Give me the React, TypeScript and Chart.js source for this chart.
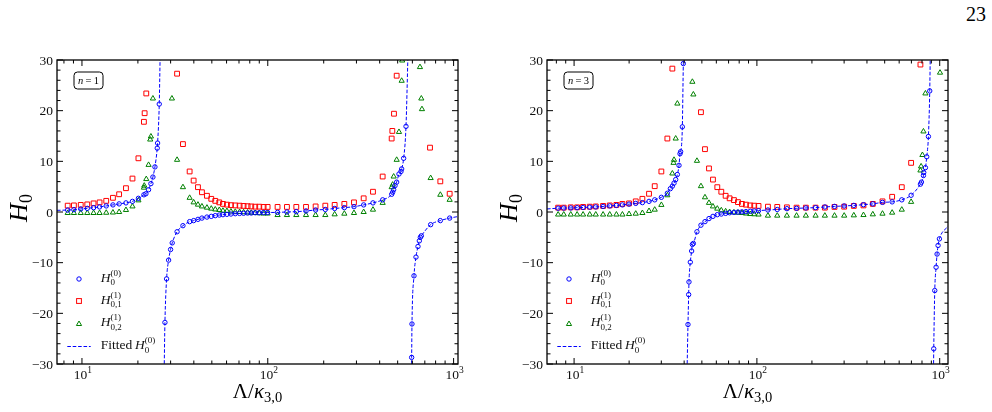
import React, { useEffect, useRef } from "react";
import { Chart, registerables } from "chart.js";

Chart.register(...registerables);

const SERIF = '"Liberation Serif", "Times New Roman", serif';
const BLUE = "#0000ff";
const RED = "#ff0000";
const GREEN = "#008000";

/* ---------------- n = 1 ---------------- */
const n1LamH0 = [
  8.38, 9.05, 9.85, 10.68, 11.55, 12.44, 13.51, 14.68, 15.85, 17.25, 18.7, 20.13,
  21.55, 22.09, 22.83, 23.5, 24.09, 24.7, 25.42, 25.53, 26.06,
  27.96, 28.54, 29.26, 29.99, 30.6, 32.5, 34.95, 37.97, 39.9, 42.1, 44.23, 47.06, 49.65, 52.17,
  54.83, 57.37, 60.28, 63.35, 66.84, 70.52, 74.1, 77.88, 81.5, 85.6, 90.0, 94.95, 99.8,
  112.9, 126.8, 142.4, 160.6, 180.9, 204.0, 229.0, 258.2, 291.0, 328.1, 368.2, 415.2,
  464.2, 469.9, 475.8, 483.8, 493.9, 508.3, 521.0, 525.4, 538.6, 554.4,
  594.6, 597.0, 612.1, 627.4, 643.2, 653.9, 662.1, 670.4, 752.4, 848.3, 952.4,
];
const n1ValH0 = [
  0.39, 0.46, 0.6, 0.72, 0.86, 1.0, 1.2, 1.4, 1.6, 1.8, 2.1, 2.7,
  3.4, 3.6, 4.4, 5.6, 6.9, 8.9, 12.6, 13.6, 21.3,
  -21.8, -13.2, -9.5, -7.4, -6.1, -3.9, -2.7, -1.9, -1.7, -1.45, -1.2, -1.0, -0.86, -0.72,
  -0.6, -0.53, -0.46, -0.4, -0.33, -0.28, -0.25, -0.2, -0.2, -0.15, -0.15, -0.1, -0.1,
  -0.07, 0.0, 0.07, 0.2, 0.4, 0.5, 0.7, 0.86, 1.05, 1.4, 1.8, 2.4,
  3.5, 3.9, 4.4, 5.2, 5.9, 7.5, 8.0, 8.5, 10.6, 16.9,
  -28.7, -22.1, -12.6, -8.9, -6.8, -5.7, -5.0, -4.7, -2.5, -1.7, -1.2,
];
const n1LamH01 = [
  8.38, 9.05, 9.85, 10.68, 11.55, 12.44, 13.51, 14.68, 15.85, 17.25, 18.7, 20.13, 21.55, 21.74, 22.19,
  32.5, 34.95, 37.97, 39.9, 42.1, 44.23, 47.06, 49.65, 52.17, 54.83, 57.37, 60.28, 63.35, 66.84,
  70.52, 74.1, 77.88, 81.5, 85.6, 90.0, 94.95, 99.8,
  112.9, 126.8, 142.4, 160.6, 180.9, 204.0, 229.0, 258.2, 291.0, 328.1, 368.2, 415.2, 464.2, 468.0,
  477.7, 493.9,
  746.5, 848.3, 952.4,
];
const n1ValH01 = [
  1.25, 1.3, 1.4, 1.5, 1.7, 1.9, 2.2, 2.8, 3.5, 4.7, 6.6, 10.6, 17.8, 19.5, 23.4,
  27.3, 13.4, 8.0, 6.2, 4.9, 3.9, 3.2, 2.6, 2.2, 1.9, 1.6, 1.45, 1.35, 1.3,
  1.25, 1.2, 1.15, 1.1, 1.05, 1.05, 1.0, 1.0,
  1.0, 1.0, 1.0, 1.0, 1.1, 1.25, 1.4, 1.6, 1.9, 2.7, 4.0, 7.0, 14.5, 16.0,
  19.4, 26.9,
  12.7, 6.05, 3.6,
];
const n1LamH02 = [
  8.38, 9.05, 9.85, 10.68, 11.55, 12.44, 13.51, 14.68, 15.85, 17.25, 18.7, 20.13, 21.55, 21.64,
  22.19, 22.83, 23.3, 23.5, 24.09,
  30.49, 32.5, 34.95, 37.97, 39.9, 42.1, 44.23, 47.06, 49.65, 52.17, 54.83, 57.37, 60.28, 63.35,
  66.84, 70.52, 74.1, 77.88, 81.5, 85.6, 90.0, 94.95, 99.8,
  112.9, 126.8, 142.4, 160.6, 180.9, 204.0, 229.0, 258.2, 291.0, 328.1, 368.2, 415.2, 464.2,
  469.9, 475.8, 493.9, 508.3, 525.4, 529.0,
  659.2, 670.3, 675.6, 752.4, 848.3, 952.4,
];
const n1ValH02 = [
  -0.2, -0.2, -0.2, -0.2, -0.2, -0.2, -0.15, -0.1, 0.0, 0.4, 1.1, 2.3, 4.8, 5.2,
  6.5, 9.3, 14.3, 14.9, 22.4,
  22.4, 10.3, 4.9, 2.8, 1.9, 1.45, 1.1, 0.86, 0.66, 0.5, 0.4, 0.26, 0.2, 0.1,
  0.05, 0.0, -0.05, -0.1, -0.15, -0.2, -0.25, -0.3, -0.3,
  -0.6, -0.6, -0.6, -0.6, -0.6, -0.6, -0.46, -0.33, -0.2, 0.0, 0.46, 1.8, 4.9,
  5.4, 7.0, 10.3, 15.8, 25.9, 29.9,
  28.6, 22.4, 20.3, 6.7, 3.4, 2.4,
];
// fitted H0^(0): each branch runs [Λ start, H start, Λ end, H end] around the poles
const n1FitBranches = [
  [7.34, 0.33, 26.35, 31],
  [27.7, -31, 568, 31],
  [592.5, -31, 1056, -0.9],
];
const n1XRange = [7.34, 1056];

/* ---------------- n = 3 ---------------- */
const n3LamH0 = [
  8.18, 8.78, 9.59, 10.39, 11.2, 12.18, 13.14, 14.41, 15.67, 17.04, 18.38, 19.98, 21.74, 23.64,
  25.7, 27.61, 30.02, 32.38, 33.62, 34.48, 35.21, 35.96, 36.72, 37.49, 37.97, 38.28, 39.1, 39.59,
  41.98, 42.34, 42.51, 43.23, 43.96, 44.36, 44.92, 47.0, 49.43, 52.0, 54.69, 57.5, 60.73, 63.87,
  67.45, 70.93, 74.89, 78.76, 82.8, 87.1, 91.97, 96.7, 102.1,
  114.9, 129.2, 145.9, 164.8, 185.3, 209.4, 235.4, 265.8, 300.2, 339.0, 382.8, 430.6, 486.4,
  549.3, 620.2, 697.5, 784.4, 794.4, 814.7, 817.8, 835.2, 849.3, 867.3, 882.0,
  927.7, 939.5, 955.3, 967.4, 979.5, 996.1,
];
const n3ValH0 = [
  0.75, 0.78, 0.8, 0.85, 0.9, 0.95, 1.0, 1.1, 1.2, 1.3, 1.4, 1.55, 1.7, 1.85,
  2.1, 2.4, 2.9, 3.7, 4.6, 5.1, 5.7, 6.4, 7.4, 9.2, 11.5, 11.9, 16.8, 29.3,
  -22.2, -16.3, -13.8, -9.9, -7.7, -6.4, -6.2, -3.9, -2.6, -1.9, -1.3, -0.86, -0.53, -0.4,
  -0.27, -0.15, -0.08, -0.02, 0.03, 0.08, 0.14, 0.2, 0.26,
  0.4, 0.5, 0.66, 0.72, 0.8, 0.86, 1.0, 1.1, 1.2, 1.3, 1.45, 1.6, 1.9,
  2.0, 2.4, 3.3, 5.5, 5.9, 7.2, 7.8, 8.75, 10.9, 14.9, 23.9,
  -27.0, -15.5, -10.9, -8.3, -6.6, -5.3,
];
const n3LamH01 = [
  8.18, 8.78, 9.59, 10.39, 11.2, 12.18, 13.14, 14.41, 15.67, 17.04, 18.38, 19.98, 21.74, 23.64,
  25.7, 27.61, 30.02, 32.38, 34.48,
  49.43, 52.0, 54.69, 57.5, 60.73, 63.87, 67.45, 70.93, 74.89, 78.76, 82.8, 87.1, 91.97, 96.7, 102.1,
  114.9, 129.2, 145.9, 164.8, 185.3, 209.4, 235.4, 265.8, 300.2, 339.0, 382.8, 430.6, 486.4,
  549.3, 620.2, 697.5, 784.4,
];
const n3ValH01 = [
  0.86, 0.86, 0.92, 0.92, 1.0, 1.05, 1.1, 1.2, 1.3, 1.4, 1.6, 1.7, 2.1, 2.6,
  3.6, 5.1, 8.0, 14.5, 28.3,
  19.7, 12.4, 8.6, 6.4, 4.9, 4.0, 3.2, 2.7, 2.35, 1.95, 1.6, 1.45, 1.3, 1.25, 1.2,
  1.05, 1.0, 0.92, 0.86, 0.86, 0.86, 0.86, 1.0, 1.05, 1.2, 1.3, 1.6, 2.1,
  3.0, 4.9, 9.7, 29.1,
];
const n3LamH02 = [
  8.18, 8.78, 9.59, 10.39, 11.2, 12.18, 13.14, 14.41, 15.67, 17.04, 18.38, 19.98, 21.74, 23.64,
  25.7, 27.61, 30.02, 32.38, 34.48, 35.0, 35.21, 35.96, 36.72,
  44.36, 44.92, 47.0, 49.43, 52.0, 54.69, 57.5, 60.73, 63.87, 67.45, 70.93, 74.89, 78.76, 82.8,
  87.1, 91.97, 96.7, 102.1,
  114.9, 129.2, 145.9, 164.8, 185.3, 209.4, 235.4, 265.8, 300.2, 339.0, 382.8, 430.6, 486.4,
  549.3, 620.2, 697.5, 784.4, 790.8, 804.2, 814.7, 835.2,
  1004,
];
const n3ValH02 = [
  -0.5, -0.5, -0.5, -0.5, -0.5, -0.5, -0.5, -0.5, -0.5, -0.5, -0.5, -0.4, -0.33, -0.2,
  0.2, 0.46, 1.4, 3.3, 7.6, 9.7, 10.3, 14.5, 21.4,
  25.7, 23.2, 10.1, 5.1, 2.9, 1.8, 1.1, 0.66, 0.33, 0.13, 0.0, -0.07, -0.13, -0.2,
  -0.3, -0.4, -0.45, -0.5,
  -0.72, -0.72, -0.72, -0.72, -0.72, -0.72, -0.72, -0.72, -0.72, -0.66, -0.6, -0.46, -0.33,
  -0.13, 0.46, 2.0, 8.2, 9.0, 11.25, 15.9, 23.4,
  27.5,
];
const n3FitBranches = [
  [7.11, 0.6, 39.72, 31],
  [41.5, -31, 888, 31],
  [925, -31, 1110, -2.8],
];
const n3XRange = [7.11, 1110];

/* ---------------- axes ---------------- */
const yRange = [-30, 30];
const yMajorTicks = [-30, -20, -10, 0, 10, 20, 30];
const yMajorLabels = ["\u221230", "\u221220", "\u221210", "0", "10", "20", "30"];
const xMajorTicks = [10, 100, 1000];
const xMajorExponents = ["1", "2", "3"];
const xMinorTicks = [8, 9, 20, 30, 40, 50, 60, 70, 80, 90, 200, 300, 400, 500, 600, 700, 800, 900];

type Pt = { x: number; y: number | null };
type Seg = { t: string; s: number; i?: boolean; dy?: number; stack?: boolean };

function zip(lam: number[], val: number[]): Pt[] {
  return lam.map((x, k) => ({ x, y: val[k] }));
}

function fitCurve(lam: number[], val: number[], branches: number[][]): Pt[] {
  const pts: Pt[] = [];
  branches.forEach(([x0, y0, x1, y1], b) => {
    if (b > 0) pts.push({ x: Math.sqrt(pts[pts.length - 1].x * x0), y: null });
    pts.push({ x: x0, y: y0 });
    lam.forEach((x, k) => {
      if (x > x0 && x < x1) pts.push({ x, y: val[k] });
    });
    pts.push({ x: x1, y: y1 });
  });
  return pts;
}

function segFont(g: Seg) {
  return `${g.i ? "italic " : ""}${g.s}px ${SERIF}`;
}

function drawSegs(ctx: CanvasRenderingContext2D, segs: Seg[], x: number, y: number, align: string) {
  const items: { g: Seg; x: number }[] = [];
  let cur = 0;
  let lastStart = 0;
  let lastW = 0;
  for (const g of segs) {
    ctx.font = segFont(g);
    const w = ctx.measureText(g.t).width;
    if (g.stack) {
      items.push({ g, x: lastStart });
      lastW = Math.max(lastW, w);
      cur = lastStart + lastW;
    } else {
      items.push({ g, x: cur });
      lastStart = cur;
      lastW = w;
      cur += w;
    }
  }
  const x0 = align === "left" ? x : align === "center" ? x - cur / 2 : x - cur;
  ctx.textAlign = "left";
  ctx.textBaseline = "alphabetic";
  for (const it of items) {
    ctx.font = segFont(it.g);
    ctx.fillText(it.g.t, x0 + it.x, y + (it.g.dy || 0));
  }
}

const H = (sub: string, sup: string): Seg[] => [
  { t: "H", s: 13.5, i: true },
  { t: sub, s: 9, dy: 3.5 },
  { t: sup, s: 9, dy: -6, stack: true },
];

function circleMark(ctx: CanvasRenderingContext2D, x: number, y: number) {
  ctx.beginPath();
  ctx.arc(x, y, 2.2, 0, Math.PI * 2);
  ctx.stroke();
}
function squareMark(ctx: CanvasRenderingContext2D, x: number, y: number) {
  ctx.strokeRect(x - 2.4, y - 2.4, 4.8, 4.8);
}
function triangleMark(ctx: CanvasRenderingContext2D, x: number, y: number) {
  const r = 3;
  ctx.beginPath();
  for (let k = 0; k < 3; k++) {
    const a = (k * 2 * Math.PI) / 3;
    const px = x + Math.sin(a) * r;
    const py = y - Math.cos(a) * r;
    if (k === 0) ctx.moveTo(px, py);
    else ctx.lineTo(px, py);
  }
  ctx.closePath();
  ctx.stroke();
}

function decorations(nText: string) {
  return {
    id: "decor",
    afterDraw(chart: any) {
      const ctx: CanvasRenderingContext2D = chart.ctx;
      const a = chart.chartArea;
      const xs = chart.scales.x;
      const ys = chart.scales.y;
      ctx.save();
      ctx.fillStyle = "#000";
      ctx.strokeStyle = "#000";

      // inward ticks on all four sides
      ctx.lineWidth = 1;
      ctx.beginPath();
      const xTick = (v: number, len: number) => {
        const p = xs.getPixelForValue(v);
        ctx.moveTo(p, a.bottom);
        ctx.lineTo(p, a.bottom - len);
        ctx.moveTo(p, a.top);
        ctx.lineTo(p, a.top + len);
      };
      const yTick = (v: number, len: number) => {
        const p = ys.getPixelForValue(v);
        ctx.moveTo(a.left, p);
        ctx.lineTo(a.left + len, p);
        ctx.moveTo(a.right, p);
        ctx.lineTo(a.right - len, p);
      };
      xMajorTicks.forEach((v) => xTick(v, 6));
      xMinorTicks.forEach((v) => xTick(v, 3.5));
      for (let v = yRange[0]; v <= yRange[1]; v += 2) yTick(v, v % 10 === 0 ? 6 : 3.5);
      ctx.stroke();

      ctx.lineWidth = 1.3;
      ctx.strokeRect(a.left, a.top, a.right - a.left, a.bottom - a.top);

      // tick labels
      ctx.fillStyle = "#111";
      ctx.font = `13.5px ${SERIF}`;
      ctx.textAlign = "right";
      ctx.textBaseline = "middle";
      yMajorTicks.forEach((v, k) => {
        ctx.fillText(yMajorLabels[k], a.left - 4, ys.getPixelForValue(v) + 1);
      });
      xMajorTicks.forEach((v, k) => {
        drawSegs(
          ctx,
          [
            { t: "10", s: 13.5 },
            { t: xMajorExponents[k], s: 9.5, dy: -6 },
          ],
          xs.getPixelForValue(v) + 1,
          a.bottom + 14.5,
          "center"
        );
      });

      // axis titles
      ctx.fillStyle = "#000";
      drawSegs(
        ctx,
        [
          { t: "\u039B/", s: 21 },
          { t: "\u03BA", s: 21, i: true },
          { t: "3,0", s: 14.5, dy: 4 },
        ],
        (a.left + a.right) / 2,
        a.bottom + 34,
        "center"
      );
      ctx.save();
      ctx.translate(a.left - 30, (a.top + a.bottom) / 2 - 4);
      ctx.rotate(-Math.PI / 2);
      drawSegs(
        ctx,
        [
          { t: "H", s: 26, i: true },
          { t: "0", s: 18, dy: 5 },
        ],
        0,
        0,
        "center"
      );
      ctx.restore();

      // n label box
      const bx = a.left + 17;
      const by = 72;
      ctx.lineWidth = 1;
      ctx.beginPath();
      ctx.roundRect(bx, by, 29, 17, 3.5);
      ctx.stroke();
      ctx.font = `italic 10.5px ${SERIF}`;
      const wn = ctx.measureText("n").width;
      ctx.font = `10.5px ${SERIF}`;
      const we = ctx.measureText("=").width;
      const w1 = ctx.measureText(nText).width;
      const gap = 2.2;
      const total = wn + gap + we + gap + w1;
      let tx = bx + 14.5 - total / 2;
      const ty = by + 12.3;
      ctx.textAlign = "left";
      ctx.textBaseline = "alphabetic";
      ctx.font = `italic 10.5px ${SERIF}`;
      ctx.fillText("n", tx, ty);
      tx += wn + gap;
      ctx.font = `10.5px ${SERIF}`;
      ctx.fillText("=", tx, ty);
      tx += we + gap;
      ctx.fillText(nText, tx, ty);

      // legend
      const mx = a.left + 22;
      const lx = a.left + 43.7;
      const rows = [279, 301, 323.5, 346.5];
      ctx.lineWidth = 1;
      ctx.strokeStyle = BLUE;
      circleMark(ctx, mx, rows[0]);
      ctx.strokeStyle = RED;
      squareMark(ctx, mx, rows[1]);
      ctx.strokeStyle = GREEN;
      triangleMark(ctx, mx, rows[2] + 0.5);
      ctx.strokeStyle = BLUE;
      ctx.setLineDash([3.6, 1.8]);
      ctx.beginPath();
      ctx.moveTo(a.left + 10.3, rows[3]);
      ctx.lineTo(a.left + 33.7, rows[3]);
      ctx.stroke();
      ctx.setLineDash([]);
      ctx.fillStyle = "#111";
      drawSegs(ctx, H("0", "(0)"), lx, rows[0] + 2.5, "left");
      drawSegs(ctx, H("0,1", "(1)"), lx, rows[1] + 2.5, "left");
      drawSegs(ctx, H("0,2", "(1)"), lx, rows[2] + 2.5, "left");
      drawSegs(ctx, [{ t: "Fitted\u2009", s: 13.5 }, ...H("0", "(0)")], lx, rows[3] + 2.5, "left");

      ctx.restore();
    },
  };
}

type PanelSpec = {
  nText: string;
  xRange: number[];
  padLeft: number;
  padRight: number;
  h0: Pt[];
  h01: Pt[];
  h02: Pt[];
  fit: Pt[];
};

const panels: PanelSpec[] = [
  {
    nText: "1",
    xRange: n1XRange,
    padLeft: 57,
    padRight: 38,
    h0: zip(n1LamH0, n1ValH0),
    h01: zip(n1LamH01, n1ValH01),
    h02: zip(n1LamH02, n1ValH02),
    fit: fitCurve(n1LamH0, n1ValH0, n1FitBranches),
  },
  {
    nText: "3",
    xRange: n3XRange,
    padLeft: 51,
    padRight: 44,
    h0: zip(n3LamH0, n3ValH0),
    h01: zip(n3LamH01, n3ValH01),
    h02: zip(n3LamH02, n3ValH02),
    fit: fitCurve(n3LamH0, n3ValH0, n3FitBranches),
  },
];

function Panel({ spec, left }: { spec: PanelSpec; left: number }) {
  const ref = useRef<HTMLCanvasElement>(null);
  useEffect(() => {
    if (!ref.current) return;
    const marker = (color: string, style: string, radius: number) => ({
      pointStyle: style,
      pointRadius: radius,
      pointBorderWidth: 1,
      pointBorderColor: color,
      pointBackgroundColor: "rgba(0,0,0,0)",
      borderColor: color,
      showLine: false,
    });
    const chart = new Chart(ref.current, {
      type: "scatter",
      data: {
        datasets: [
          { label: "H0(0)", data: spec.h0, ...marker(BLUE, "circle", 2.2) } as any,
          {
            label: "Fitted H0(0)",
            data: spec.fit,
            showLine: true,
            borderColor: BLUE,
            borderWidth: 1,
            borderDash: [3.6, 1.8],
            pointRadius: 0,
            spanGaps: false,
            cubicInterpolationMode: "monotone",
            fill: false,
          } as any,
          { label: "H01(1)", data: spec.h01, ...marker(RED, "rect", 3.4) } as any,
          { label: "H02(1)", data: spec.h02, ...marker(GREEN, "triangle", 3) } as any,
        ],
      },
      options: {
        animation: false,
        responsive: false,
        maintainAspectRatio: false,
        events: [],
        layout: { padding: { left: spec.padLeft, right: spec.padRight, top: 60, bottom: 48 } },
        plugins: { legend: { display: false }, tooltip: { enabled: false } },
        scales: {
          x: { type: "logarithmic", min: spec.xRange[0], max: spec.xRange[1], display: false },
          y: { type: "linear", min: yRange[0], max: yRange[1], display: false },
        },
      },
      plugins: [decorations(spec.nText)],
    });
    return () => chart.destroy();
  }, [spec]);
  return (
    <canvas
      ref={ref}
      width={496}
      height={412}
      style={{ position: "absolute", left, top: 0, width: 496, height: 412 }}
    />
  );
}

export default function App() {
  return (
    <div
      style={{
        position: "absolute",
        left: 0,
        top: 0,
        width: 992,
        height: 412,
        background: "#fff",
        overflow: "hidden",
      }}
    >
      <div
        style={{
          position: "absolute",
          right: 6,
          top: 4,
          fontFamily: SERIF,
          fontSize: 20,
          lineHeight: "20px",
          color: "#000",
        }}
      >
        23
      </div>
      <Panel spec={panels[0]} left={0} />
      <Panel spec={panels[1]} left={496} />
    </div>
  );
}
